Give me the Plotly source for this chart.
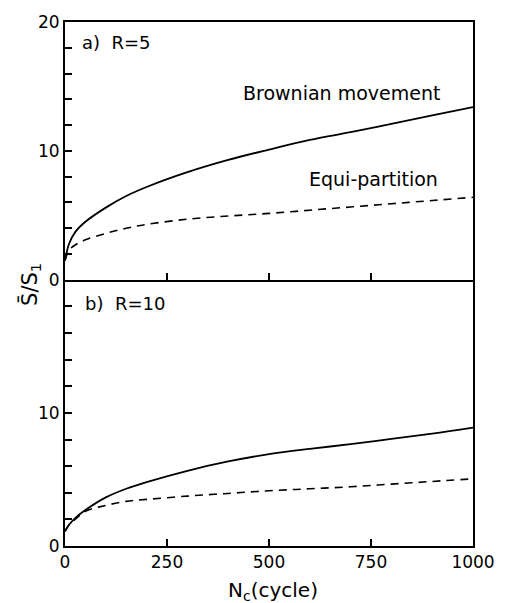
import plotly.graph_objects as go
from plotly.subplots import make_subplots

# ---- data ----
cycles = [0, 10, 25, 50, 100, 150, 200, 300, 400, 500, 600, 700, 800, 900, 1000]
brownian_r5 = [1.5, 2.8, 3.7, 4.5, 5.6, 6.5, 7.2, 8.35, 9.3, 10.1, 10.85, 11.45, 12.1, 12.75, 13.4]
equi_r5 = [1.5, 2.3, 2.7, 3.1, 3.6, 4.0, 4.3, 4.7, 4.95, 5.15, 5.4, 5.65, 5.9, 6.15, 6.4]
brownian_r10 = [1.1, 1.6, 2.1, 2.7, 3.65, 4.3, 4.8, 5.65, 6.35, 6.9, 7.3, 7.65, 8.05, 8.45, 8.9]
equi_r10 = [1.1, 1.6, 2.0, 2.6, 3.05, 3.35, 3.5, 3.75, 3.95, 4.15, 4.3, 4.45, 4.65, 4.85, 5.05]
x_ticks = [0, 250, 500, 750, 1000]
y_ticks_top = [0, 10, 20]
y_ticks_bottom = [0, 10]

FONT = "DejaVu Sans"
BLACK = "black"

fig = make_subplots(rows=2, cols=1, shared_xaxes=True, vertical_spacing=0)

solid = dict(color=BLACK, width=1.8)
dashed = dict(color=BLACK, width=1.6, dash="8px,6px")

fig.add_trace(go.Scatter(x=cycles, y=brownian_r5, mode="lines", line=solid,
                         line_shape="spline", showlegend=False), row=1, col=1)
fig.add_trace(go.Scatter(x=cycles, y=equi_r5, mode="lines", line=dashed,
                         line_shape="spline", showlegend=False), row=1, col=1)
fig.add_trace(go.Scatter(x=cycles, y=brownian_r10, mode="lines", line=solid,
                         line_shape="spline", showlegend=False), row=2, col=1)
fig.add_trace(go.Scatter(x=cycles, y=equi_r10, mode="lines", line=dashed,
                         line_shape="spline", showlegend=False), row=2, col=1)

axis_common = dict(showline=True, linecolor=BLACK, linewidth=2,
                   showgrid=False, zeroline=False, ticks="inside", ticklen=7,
                   tickwidth=1.5, tickcolor=BLACK,
                   tickfont=dict(family=FONT, size=17, color=BLACK))

fig.update_xaxes(range=[0, 1000], tickvals=x_ticks, **axis_common)
fig.update_xaxes(showticklabels=False, mirror=True, row=1, col=1)
fig.update_xaxes(showticklabels=True, mirror=False, row=2, col=1)

y_minor = dict(ticks="inside", ticklen=7, tickwidth=1.5, tickcolor=BLACK, dtick=2, tick0=0)
fig.update_yaxes(range=[0, 20], tickvals=y_ticks_top, minor=y_minor, mirror=True,
                 **axis_common, row=1, col=1)
fig.update_yaxes(range=[0, 20], tickvals=y_ticks_bottom, minor=y_minor, mirror=True,
                 **axis_common, row=2, col=1)

fig.update_layout(
    width=507, height=603,
    margin=dict(l=65, r=25, t=21, b=57),
    paper_bgcolor="white", plot_bgcolor="white",
    font=dict(family=FONT, size=17, color=BLACK),
)
fig.layout.yaxis.domain = [0.508, 1.0]
fig.layout.yaxis2.domain = [0.0, 0.508]

def ann(size):
    return dict(showarrow=False, xref="paper", yref="paper",
                font=dict(family=FONT, size=size, color=BLACK))

fig.add_annotation(text="a)  R=5", x=0.036, y=0.96, xanchor="left", yanchor="middle", **ann(18))
fig.add_annotation(text="b)  R=10", x=0.045, y=0.463, xanchor="left", yanchor="middle", **ann(18))
fig.add_annotation(text="Brownian movement", x=0.923, y=0.865, xanchor="right", yanchor="middle", **ann(19))
fig.add_annotation(text="Equi-partition", x=0.918, y=0.701, xanchor="right", yanchor="middle", **ann(19))
fig.add_annotation(text="N<sub>c</sub>(cycle)", x=0.51, y=-0.086, xanchor="center", yanchor="middle", **ann(20))
fig.add_annotation(text="S\u0304/S<sub>1</sub>", x=-0.086, y=0.5, xanchor="center", yanchor="middle",
                   textangle=-90, **ann(21))

fig.write_html("out.html")
